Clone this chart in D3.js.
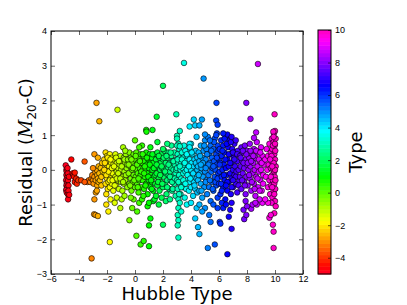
<!DOCTYPE html>
<html>
<head>
<meta charset="utf-8">
<script src="https://cdn.jsdelivr.net/npm/d3@7"></script>
<style>
  body { margin: 0; background: #fff; }
  svg { font-family: "DejaVu Sans", sans-serif; }
</style>
</head>
<body>
<div id="chart"></div>
<script>
// [hubble type, residual] pairs, grouped by morphology
const ellipticals = [
    [-4.95,0.13],[-4.9,0.0],[-4.88,-0.05],[-4.9,-0.15],[-4.85,-0.22],[-4.92,-0.3],[-4.87,-0.38],[-4.9,-0.45],
    [-4.85,-0.5],[-4.92,-0.58],[-4.88,-0.65],[-4.8,-0.7],[-4.78,-0.85],[-4.8,-0.1],[-4.78,-0.3],[-4.75,-0.45],
    [-4.75,-0.6],[-4.7,-0.72],[-4.82,0.05],[-4.72,-0.2],[-4.55,0.3],[-4.45,-0.1],[-4.4,-0.15],[-4.35,-0.2],
    [-4.3,-0.35],[-4.2,-0.25],[-4.15,-0.4],[-4.05,-0.3],[-4.3,-0.08],[-3.85,-0.3],[-3.6,0.24]
];
const lenticulars = [
    [-3.4,-0.35],[-3.3,-0.3],[-3.2,-0.35],[-3.1,-0.25],[-3.0,-0.3],[-3.05,-0.15],[-2.95,-0.4],[-2.9,-0.2],
    [-2.85,-0.05],[-2.8,-0.3],[-2.75,0.0],[-2.7,-0.15],[-2.7,-0.45],[-2.65,-0.25],[-2.6,0.1],[-2.6,-0.35],
    [-2.55,-0.1],[-2.5,-0.3],[-2.45,0.05],[-2.4,-0.2],[-2.4,-0.45],[-2.35,0.2],[-2.3,-0.05],[-2.75,1.93],
    [-2.55,1.4],[-2.9,0.45],[-2.65,0.35],[-2.9,-0.85],[-2.8,-0.65],[-2.72,-0.6],[-2.92,-1.28],[-2.82,-1.3],
    [-2.65,-1.33],[-3.1,-2.55],[-3.6,-0.35],[-3.0,0.05]
];
const earlyS0 = [
    [-2.2,0.3],[-2.15,-0.1],[-2.1,0.5],[-2.1,-0.4],[-2.05,0.15],[-2.0,-0.25],[-2.0,0.4],[-1.95,-0.55],
    [-1.95,0.0],[-1.9,0.25],[-1.9,-0.35],[-1.85,0.1],[-1.85,-0.15],[-1.8,0.45],[-1.8,-0.5],[-1.75,-0.25],
    [-1.7,0.2],[-1.7,0.0],[-1.65,-0.4],[-1.65,0.35],[-1.6,-0.1],[-1.55,0.15],[-1.55,-0.6],[-1.5,-0.3],
    [-1.5,0.3],[-1.45,0.05],[-1.4,-0.2],[-1.4,0.45],[-1.35,-0.45],[-1.3,0.2],[-1.3,-0.05],[-1.25,-0.3],
    [-1.2,0.3],[-1.2,0.05],[-1.15,-0.55],[-1.1,-0.15],[-1.1,0.15],[-1.05,0.4],[-1.0,-0.35],[-1.0,0.0],
    [-0.95,0.25],[-0.9,-0.2],[-0.9,-0.6],[-0.85,0.1],[-0.8,0.35],[-0.8,-0.4],[-0.75,-0.05],[-0.7,0.2],
    [-0.7,-0.3],[-0.65,0.45],[-0.6,-0.15],[-0.6,0.05],[-0.55,-0.5],
    [-2.15,0.2],[-2.05,-0.15],[-1.95,0.35],[-1.9,-0.05],[-1.8,-0.3],[-1.75,0.3],[-1.65,0.05],[-1.6,-0.3],
    [-1.5,0.1],[-1.45,-0.45],[-1.35,0.35],[-1.3,-0.25],[-1.2,-0.1],[-1.15,0.25],[-1.05,-0.25],[-0.95,0.1],
    [-0.85,-0.35],[-0.75,0.3],[-0.65,-0.15],[-0.55,0.15],
    [-1.25,1.73],[-1.8,-2.08],[-1.9,-1.2],[-1.75,-0.85],[-1.45,-0.95],[-0.85,0.65],[-2.05,-1.0],[-2.2,0.0],
    [-2.05,-0.7],[-1.3,-0.8],[-0.95,-0.85],[-0.75,-0.75],[-1.05,-1.1]
];
const earlySpirals = [
    [-0.5,0.3],[-0.45,-0.1],[-0.4,0.5],[-0.4,-0.4],[-0.35,0.1],[-0.3,-0.25],[-0.3,0.35],[-0.25,-0.6],
    [-0.2,0.0],[-0.2,0.2],[-0.15,-0.35],[-0.1,0.45],[-0.1,-0.15],[-0.05,0.1],[0.0,-0.5],[0.0,0.3],
    [0.05,-0.2],[0.1,0.0],[0.1,0.5],[0.15,-0.4],[0.2,0.2],[0.2,-0.1],[0.25,-0.65],[0.3,0.35],
    [0.3,-0.3],[0.35,0.05],[0.4,-0.15],[0.4,0.45],[0.45,-0.5],[0.5,0.2],[0.5,-0.05],[0.55,-0.3],
    [0.6,0.4],[0.6,0.05],[0.65,-0.55],[0.7,-0.2],[0.7,0.25],[0.75,0.0],[0.8,-0.4],[0.8,0.5],
    [0.85,0.15],[0.9,-0.1],[0.9,-0.7],[0.95,0.3],[1.0,-0.3],[1.0,0.05],[1.05,0.45],[1.1,-0.5],
    [1.1,0.2],[1.15,-0.15],[1.2,0.35],[1.2,-0.35],[1.25,0.0],[1.3,-0.6],[1.3,0.2],[1.35,-0.2],
    [1.4,0.45],[1.45,0.05],[1.45,-0.4],
    [-0.45,0.15],[-0.35,-0.45],[-0.25,0.3],[-0.15,0.05],[-0.05,-0.3],[0.05,0.4],[0.15,0.15],[0.25,-0.25],
    [0.35,0.25],[0.45,-0.05],[0.55,0.45],[0.65,-0.1],[0.75,-0.45],[0.85,0.35],[0.95,-0.2],[1.05,0.15],
    [1.15,-0.3],[1.25,0.45],[1.35,0.05],[1.45,-0.15],[0.2,-0.5],[0.7,0.1],[1.2,-0.55],
    [0.8,1.15],[0.82,1.1],[1.25,1.15],[0.0,0.85],[-0.7,0.55],[-0.4,-1.45],[-0.2,-1.1],[0.1,-1.9],
    [0.4,-2.15],[0.62,-2.05],[1.0,-2.2],[1.0,-1.6],[1.1,-1.4],[-0.1,-0.85],[0.3,-0.95],[0.5,-0.85],
    [0.15,-1.2],[0.9,-1.05],[1.3,-0.9],[1.0,-0.95],[-0.3,-0.8],[0.6,-0.75],[1.4,-0.85],[0.5,0.7],
    [1.1,0.65],[0.3,0.65]
];
const sabSpirals = [
    [1.5,0.3],[1.55,-0.1],[1.6,0.5],[1.6,-0.45],[1.65,0.1],[1.7,-0.25],[1.75,0.35],[1.75,-0.6],
    [1.8,0.0],[1.85,0.2],[1.85,-0.35],[1.9,0.45],[1.9,-0.15],[1.95,0.05],[2.0,-0.5],[2.0,0.3],
    [2.05,-0.2],[2.1,0.0],[2.1,0.55],[2.15,-0.4],[2.2,0.2],[2.2,-0.1],[2.25,-0.7],[2.3,0.35],
    [2.3,-0.3],[2.35,0.05],[2.4,-0.15],[2.4,0.5],[2.45,-0.55],[2.5,0.2],[2.5,-0.05],[2.55,-0.3],
    [2.6,0.4],[2.6,0.05],[2.65,-0.6],[2.7,-0.2],[2.7,0.25],[2.75,0.0],[2.8,-0.4],[2.8,0.5],
    [2.85,0.15],[2.9,-0.1],[2.9,-0.75],[2.95,0.3],
    [1.55,0.15],[1.65,-0.35],[1.7,0.4],[1.8,-0.15],[1.9,0.1],[1.95,-0.4],[2.05,0.35],[2.15,-0.05],
    [2.25,0.4],[2.3,-0.5],[2.4,0.15],[2.5,-0.2],[2.55,0.5],[2.65,-0.35],[2.75,0.25],[2.85,-0.25],
    [2.95,0.0],[2.0,0.6],[2.7,-0.55],
    [1.55,1.53],[1.6,0.8],[2.0,2.42],[2.0,-1.58],[1.7,-1.0],[2.2,-0.9],[2.5,-0.85],[1.9,-0.8],
    [2.6,0.7],[2.3,0.75],[1.5,-0.75]
];
const sbSpirals = [
    [3.0,-0.3],[3.0,0.05],[3.05,0.45],[3.05,-0.55],[3.1,0.2],[3.1,-0.85],[3.1,-1.1],[3.05,-1.3],
    [3.1,-1.45],[3.05,-1.6],[3.15,-0.15],[3.15,0.6],[3.2,-0.4],[3.2,0.35],[3.25,0.0],[3.25,-0.7],
    [3.3,0.2],[3.3,-0.25],[3.35,0.5],[3.4,-0.5],[3.4,0.05],[3.45,-0.1],[3.45,0.35],[3.5,-0.35],
    [3.5,0.15],[3.55,-0.8],[3.6,0.55],[3.6,-0.05],[3.65,-0.55],[3.65,0.25],[3.7,0.0],[3.7,-0.3],
    [3.75,0.4],[3.8,-0.15],[3.8,0.15],[3.85,-0.6],[3.9,0.3],[3.9,-0.35],[3.95,0.6],[4.0,0.0],
    [4.0,-0.5],[4.05,0.2],[4.1,-0.2],[4.1,0.45],[4.15,-0.75],[4.2,0.1],[4.2,-0.35],[4.25,0.3],
    [4.3,-0.05],[4.3,-0.55],[4.35,0.55],[4.4,0.15],[4.4,-0.25],[4.45,-0.65],[4.45,0.35],
    [3.05,0.3],[3.1,-0.35],[3.2,0.1],[3.3,-0.5],[3.35,0.3],[3.45,-0.3],[3.55,0.2],[3.6,-0.4],
    [3.7,0.45],[3.75,-0.15],[3.85,0.1],[3.95,-0.25],[4.05,0.5],[4.15,-0.1],[4.25,-0.45],[4.35,0.2],
    [4.45,0.0],[3.5,0.7],[4.0,0.75],[3.15,-0.7],
    [3.5,3.08],[2.95,1.6],[3.2,1.12],[3.0,0.98],[3.0,0.9],[3.1,0.75],[3.0,0.7],[3.2,0.68],
    [3.9,1.25],[4.2,1.45],[4.3,1.28],[3.9,0.75],[3.9,0.65],[4.4,0.95],[3.1,-1.95],[3.2,-0.95],
    [3.7,-1.0],[4.0,-0.95],[4.3,-1.4],[4.5,-1.65],[4.6,-1.85],[4.4,-1.1],[3.3,-1.2]
];
const sbcSpirals = [
    [4.5,0.1],[4.5,-0.3],[4.55,0.5],[4.6,-0.6],[4.6,0.25],[4.65,-0.1],[4.7,0.7],[4.7,-0.4],
    [4.75,0.05],[4.8,0.35],[4.8,-0.8],[4.85,-0.2],[4.9,0.55],[4.9,0.15],[4.95,-0.5],[5.0,0.85],
    [5.0,-0.05],[5.05,0.3],[5.1,-0.3],[5.1,0.6],[5.15,-0.7],[5.2,0.1],[5.2,0.95],[5.25,-0.15],
    [5.3,0.45],[5.3,-0.5],[5.35,0.2],[5.4,-0.9],[5.4,0.7],[5.45,-0.05],[5.5,0.35],[5.5,-0.35],
    [5.55,0.05],[5.6,0.6],[5.6,-0.6],[5.65,0.25],[5.7,-0.2],[5.7,0.9],[5.75,0.0],[5.8,0.45],
    [5.8,-0.45],[5.85,0.15],[5.9,-0.8],[5.9,0.7],[5.95,-0.1],[6.0,0.3],
    [4.55,-0.15],[4.65,0.4],[4.75,-0.6],[4.85,0.2],[4.95,0.7],[5.05,-0.35],[5.15,0.45],[5.25,0.15],
    [5.35,-0.3],[5.45,0.55],[5.55,-0.55],[5.65,0.8],[5.75,-0.35],[5.85,0.35],[5.95,0.55],[5.05,0.05],
    [5.35,0.85],[5.6,0.1],[4.7,0.15],[5.9,-0.25],
    [4.9,2.63],[5.82,1.93],[5.8,1.42],[5.9,1.3],[4.78,1.45],[4.6,1.28],[5.0,1.02],[5.85,1.05],
    [5.8,1.0],[5.2,-2.25],[5.7,-2.15],[5.0,-1.1],[5.3,-1.3],[4.8,-1.2],[5.6,-1.0],[4.6,-1.0],
    [5.9,-1.1],[5.4,-1.5]
];
const scSpirals = [
    [6.0,-0.4],[6.05,0.6],[6.05,-0.05],[6.1,0.2],[6.1,-0.7],[6.15,0.85],[6.2,-0.2],[6.2,0.4],
    [6.25,0.0],[6.3,-0.5],[6.3,0.7],[6.35,0.15],[6.4,-0.3],[6.4,0.5],[6.45,-0.85],[6.5,0.05],
    [6.5,0.95],[6.55,-0.15],[6.6,0.3],[6.6,-0.6],[6.65,0.65],[6.7,0.1],[6.7,-0.35],[6.75,0.85],
    [6.8,-0.1],[6.8,0.45],[6.85,-0.7],[6.9,0.2],[6.9,-0.25],[6.95,0.6],[7.0,0.0],[7.0,-0.5],
    [7.05,0.35],[7.1,-0.15],[7.1,0.75],[7.15,0.1],[7.2,-0.4],[7.2,0.5],[7.25,-0.05],[7.3,0.25],
    [7.3,-0.65],[7.35,0.55],[7.4,0.0],[7.45,-0.3],
    [6.05,0.15],[6.15,-0.4],[6.25,0.55],[6.35,-0.15],[6.45,0.3],[6.55,0.75],[6.6,-0.35],[6.7,0.45],
    [6.8,0.2],[6.9,-0.5],[7.0,0.5],[7.1,0.3],[7.2,-0.2],[7.3,0.45],[7.4,-0.45],[6.4,0.9],
    [6.85,0.8],[6.2,-0.6],[7.0,-0.3],[6.5,-0.45],
    [6.6,-2.43],[6.05,-1.5],[6.1,-1.55],[6.9,-1.7],[6.7,-1.35],[6.3,-1.1],[6.8,-1.15],[6.2,-0.95],
    [6.9,-0.95],[6.6,1.02],[6.3,1.05],[6.9,0.95],[7.2,0.85],[6.5,-1.0]
];
const lateSpirals = [
    [7.5,0.4],[7.5,-0.2],[7.55,0.1],[7.6,-0.55],[7.6,0.65],[7.65,0.25],[7.7,-0.1],[7.75,0.5],
    [7.8,-0.35],[7.8,0.05],[7.85,0.7],[7.9,-0.7],[7.9,0.3],[7.95,-0.2],[8.0,0.15],[8.0,0.55],
    [8.05,-0.45],[8.1,0.0],[8.15,0.35],[8.2,-0.25],[8.2,0.75],[8.25,0.1],[8.3,-0.6],[8.35,0.45],
    [8.4,-0.1],[8.45,0.2],[8.5,0.6],[8.5,-0.4],[8.55,0.0],[8.6,0.35],[8.6,-0.75],[8.65,-0.2],
    [8.7,0.8],[8.75,0.1],[8.8,-0.5],[8.8,0.5],[8.85,-0.05],[8.9,0.25],[8.95,-0.3],[9.0,0.65],
    [9.0,0.0],[9.05,-0.6],[9.1,0.4],[9.15,-0.15],[9.2,0.15],
    [7.55,0.35],[7.65,-0.3],[7.75,0.2],[7.85,-0.45],[7.95,0.45],[8.05,0.2],[8.15,-0.15],[8.25,0.55],
    [8.35,-0.35],[8.45,0.4],[8.55,-0.55],[8.65,0.55],[8.75,-0.25],[8.85,0.3],[8.95,0.5],[9.05,0.2],
    [9.15,-0.4],[8.3,0.25],[7.7,0.55],[8.9,-0.6],
    [7.95,1.93],[8.25,1.47],[8.78,3.05],[8.65,1.08],[8.5,0.92],[7.8,-1.42],[7.95,-1.3],[8.3,-1.12],
    [7.75,-1.15],[8.0,-1.05],[7.9,-0.9],[8.7,-1.0],[9.1,-0.95],[8.9,-0.85],[8.4,-1.0],[8.6,-0.95]
];
const irregulars = [
    [9.3,0.3],[9.35,-0.2],[9.4,0.6],[9.45,0.0],[9.5,-0.5],[9.5,0.4],[9.55,0.15],[9.6,-0.3],
    [9.6,0.75],[9.65,-0.7],[9.7,0.5],[9.7,0.05],[9.72,-0.45],[9.75,0.25],[9.78,0.9],[9.8,-0.15],
    [9.8,0.6],[9.82,-0.8],[9.85,0.35],[9.85,-0.3],[9.88,0.0],[9.9,0.8],[9.9,-0.6],[9.92,0.15],
    [9.92,1.05],[9.95,-0.05],[9.95,0.45],[9.95,-0.4],[9.98,0.7],[9.98,-0.2],[10.0,0.3],[10.0,1.12],
    [10.0,-0.9],[10.02,0.55],[10.02,-0.55],[10.05,0.1],[10.05,0.9],[9.75,-0.95],[9.88,1.1],
    [9.75,0.4],[9.8,-0.5],[9.85,0.7],[9.9,0.2],[9.95,-0.7],[10.0,0.0],[10.0,0.75],[9.7,-0.2],
    [9.65,0.3],[10.03,-0.3],[9.9,0.95],[9.8,0.1],
    [9.97,1.6],[9.85,-1.58],[9.9,-1.78],[9.9,-2.25],[9.6,-1.38],[9.95,-1.25],[10.05,-1.05],
    [9.7,-1.3],[9.5,-0.95],[9.3,-0.85]
];

const xTicks = [-6, -4, -2, 0, 2, 4, 6, 8, 10, 12];
const yTicks = [-3, -2, -1, 0, 1, 2, 3, 4];
const cbTicks = [-4, -2, 0, 2, 4, 6, 8, 10];

// matplotlib gist_rainbow segment data
const gistStops = [0, 0.03, 0.215, 0.4, 0.586, 0.77, 0.954, 1];
const gistR = [1, 1, 1, 0, 0, 0, 1, 1];
const gistG = [0, 0, 1, 1, 1, 0, 0, 0];
const gistB = [0.16, 0, 0, 0, 1, 1, 1, 0.75];

function gistRainbow(t) {
    const r = d3.scaleLinear().domain(gistStops).range(gistR).clamp(true);
    const g = d3.scaleLinear().domain(gistStops).range(gistG).clamp(true);
    const b = d3.scaleLinear().domain(gistStops).range(gistB).clamp(true);
    return d3.rgb(r(t) * 255, g(t) * 255, b(t) * 255).toString();
}

const width = 407, height = 305;
const margin = { left: 51, right: 104, top: 31, bottom: 31 };
const plotW = width - margin.left - margin.right;
const plotH = height - margin.top - margin.bottom;

const fmt = d => d < 0 ? "\u2212" + Math.abs(d) : String(d);

const svg = d3.select("#chart").append("svg")
    .attr("width", width)
    .attr("height", height);

const x = d3.scaleLinear().domain([-6, 12]).range([margin.left, margin.left + plotW]);
const y = d3.scaleLinear().domain([-3, 4]).range([margin.top + plotH, margin.top]);
const color = d3.scaleSequential(gistRainbow).domain([-5, 10]);

const points = [].concat(ellipticals, lenticulars, earlyS0, earlySpirals, sabSpirals,
    sbSpirals, sbcSpirals, scSpirals, lateSpirals, irregulars);

svg.append("g")
    .selectAll("circle")
    .data(points)
    .enter().append("circle")
    .attr("cx", d => x(d[0]))
    .attr("cy", d => y(d[1]))
    .attr("r", 2.8)
    .attr("fill", d => color(d[0]))
    .attr("stroke", "#000")
    .attr("stroke-width", 0.6);

// axes: classic matplotlib style, ticks inside on all four sides
const axisStyle = g => {
    g.select(".domain").remove();
    g.selectAll("text").attr("font-size", 9).attr("fill", "#000");
    g.selectAll("line").attr("stroke", "#000").attr("stroke-width", 0.6);
};

svg.append("g")
    .attr("transform", `translate(0,${margin.top + plotH})`)
    .call(d3.axisBottom(x).tickValues(xTicks).tickFormat(fmt).tickSizeInner(-4).tickPadding(2))
    .call(axisStyle);
svg.append("g")
    .attr("transform", `translate(0,${margin.top})`)
    .call(d3.axisTop(x).tickValues(xTicks).tickFormat("").tickSizeInner(-4))
    .call(axisStyle);
svg.append("g")
    .attr("transform", `translate(${margin.left},0)`)
    .call(d3.axisLeft(y).tickValues(yTicks).tickFormat(fmt).tickSizeInner(-4).tickPadding(4))
    .call(axisStyle);
svg.append("g")
    .attr("transform", `translate(${margin.left + plotW},0)`)
    .call(d3.axisRight(y).tickValues(yTicks).tickFormat("").tickSizeInner(-4))
    .call(axisStyle);

svg.append("rect")
    .attr("x", margin.left).attr("y", margin.top)
    .attr("width", plotW).attr("height", plotH)
    .attr("fill", "none").attr("stroke", "#000").attr("stroke-width", 1);

svg.append("text")
    .attr("x", margin.left + plotW / 2)
    .attr("y", 300)
    .attr("text-anchor", "middle")
    .attr("font-size", 18)
    .text("Hubble Type");

const yl = svg.append("text")
    .attr("transform", `translate(32,${margin.top + plotH / 2}) rotate(-90)`)
    .attr("text-anchor", "middle")
    .attr("font-size", 18);
yl.append("tspan").text("Residual (");
yl.append("tspan").attr("font-style", "italic").attr("font-family", "DejaVu Serif").text("M");
yl.append("tspan").attr("font-size", 12).attr("dy", 4).text("20");
yl.append("tspan").attr("dy", -4).text("-C)");

// colorbar
const cbX = 318, cbW = 13;
const cy = d3.scaleLinear().domain([-5, 10]).range([274, 30]);
const steps = d3.range(0, 64);
svg.append("g")
    .selectAll("rect")
    .data(steps)
    .enter().append("rect")
    .attr("x", cbX)
    .attr("width", cbW)
    .attr("y", i => cy(-5 + (i + 1) * 15 / 64))
    .attr("height", i => cy(-5 + i * 15 / 64) - cy(-5 + (i + 1) * 15 / 64) + 0.5)
    .attr("fill", i => color(-5 + (i + 0.5) * 15 / 64));

svg.append("rect")
    .attr("x", cbX).attr("y", 30)
    .attr("width", cbW).attr("height", 244)
    .attr("fill", "none").attr("stroke", "#000").attr("stroke-width", 1);

svg.append("g")
    .attr("transform", `translate(${cbX + cbW},0)`)
    .call(d3.axisRight(cy).tickValues(cbTicks).tickFormat(fmt).tickSizeInner(-3).tickPadding(4))
    .call(axisStyle);

svg.append("text")
    .attr("transform", `translate(362,152) rotate(-90)`)
    .attr("text-anchor", "middle")
    .attr("font-size", 18)
    .text("Type");
</script>
</body>
</html>
